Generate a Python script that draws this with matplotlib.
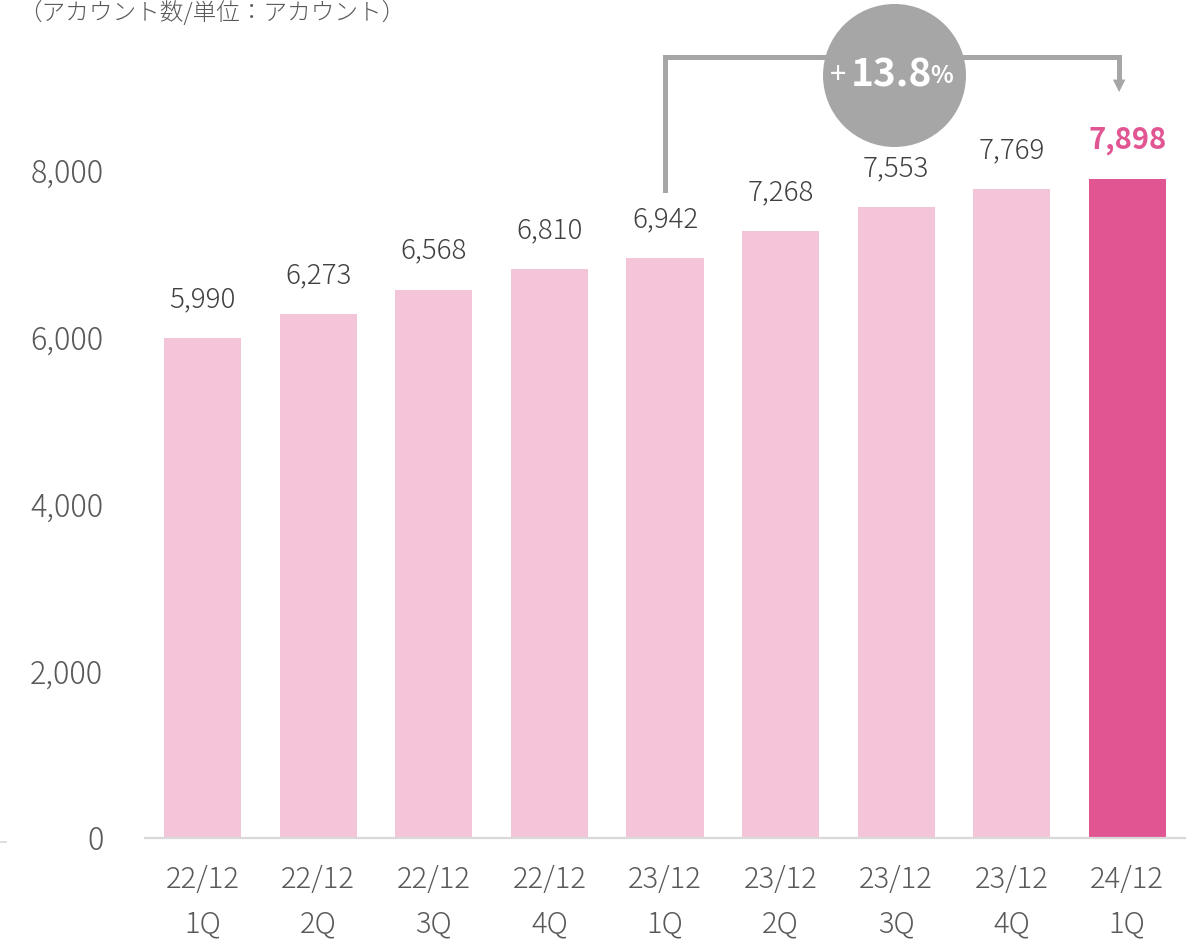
import matplotlib
matplotlib.use("Agg")
import matplotlib.pyplot as plt
from matplotlib.lines import Line2D
import numpy as np

plt.rcParams['font.family'] = ['Noto Sans CJK JP', 'DejaVu Sans']

periods = ["22/12\n1Q", "22/12\n2Q", "22/12\n3Q", "22/12\n4Q", "23/12\n1Q",
           "23/12\n2Q", "23/12\n3Q", "23/12\n4Q", "24/12\n1Q"]
accounts = [5990, 6273, 6568, 6810, 6942, 7268, 7553, 7769, 7898]
growth_label = "13.8"
y_ticks = [0, 2000, 4000, 6000, 8000]

light = "#f4c4d8"
dark = "#e05592"
grey_text = "#595959"
bracket = "#a6a6a6"

fig = plt.figure(figsize=(12.01, 9.44), dpi=100)
ax = fig.add_axes([145/1201, 1-838/944, 1040/1201, 835/944])

x = np.arange(len(accounts))
colors = [light]*(len(accounts)-1) + [dark]
ax.bar(x, accounts, width=0.667, color=colors, zorder=2)

ax.set_xlim(-0.5, len(accounts)-0.5)
ax.set_ylim(0, 10000)
ax.set_yticks(y_ticks)
ax.set_yticklabels([f"{v:,}" for v in y_ticks], fontweight='light')
ax.set_xticks(x)
ax.set_xticklabels(periods, linespacing=1.6, fontweight='light')
ax.tick_params(axis='y', length=0, pad=30, labelsize=22, labelcolor=grey_text)
ax.tick_params(axis='x', length=0, pad=19, labelsize=21, labelcolor=grey_text)
for s in ['top', 'right', 'left']:
    ax.spines[s].set_visible(False)
ax.spines['bottom'].set_color("#d9d9d9")
ax.spines['bottom'].set_linewidth(1.6)

# value labels
for i, v in enumerate(accounts):
    last = i == len(accounts)-1
    ax.annotate(f"{v:,}", (i, v), xytext=(0, 28), textcoords='offset points',
                ha='center', va='center', fontsize=20 if not last else 21,
                color=dark if last else "#404040",
                fontweight='bold' if last else 'light')

# growth bracket
start, end = 4, len(accounts)-1
x_end = end - 0.07
top_y = 9353
ax.plot([start, start, x_end, x_end], [7760, top_y, top_y, 9080],
        color=bracket, lw=3.6, solid_joinstyle='miter', clip_on=False, zorder=3)
ax.annotate("", xy=(x_end, 8900), xytext=(x_end, 9120),
            arrowprops=dict(arrowstyle="-|>,head_length=0.9,head_width=0.45",
                            color=bracket, lw=0), annotation_clip=False)
ax.scatter([6 - 0.02], [9140], s=(2*71.5*0.72)**2, color=bracket,
           clip_on=False, zorder=4, linewidths=0)
ax.text(5.5, 9135, "+", ha='center', va='center', fontsize=21, color='white',
        zorder=5)
ax.text(5.96, 9140, growth_label, ha='center', va='center', fontsize=28,
        fontweight='bold', color='white', zorder=5)
ax.text(6.39, 9120, "%", ha='center', va='center', fontsize=17,
        fontweight='bold', color='white', zorder=5)

fig.text(18/1201, 1-13/944, "（アカウント数/単位：アカウント）", fontsize=17,
         color=grey_text, ha='left', va='center', fontweight='light')
fig.add_artist(Line2D([0, 6/1201], [1-842/944, 1-842/944], color="#d9d9d9", lw=1.2))

fig.savefig("out.png", dpi=100)
